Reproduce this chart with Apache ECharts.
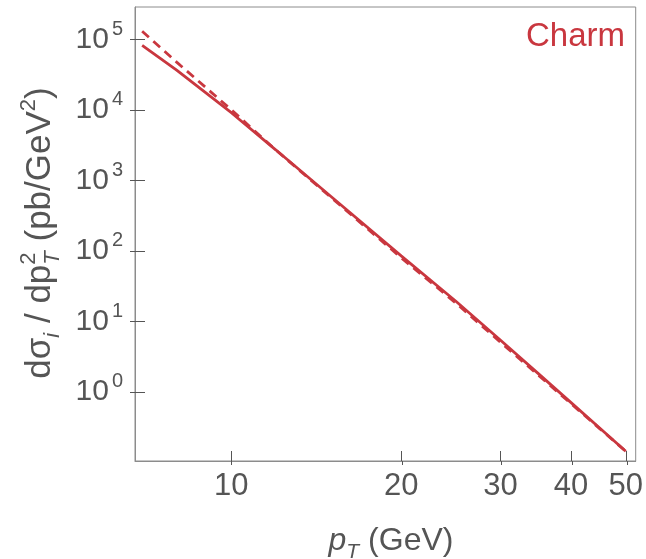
<!DOCTYPE html>
<html><head><meta charset="utf-8">
<script src="https://cdn.jsdelivr.net/npm/echarts@6/dist/echarts.min.js"></script>
<style>html,body{margin:0;padding:0;background:#fff}#c{width:646px;height:559px}</style>
</head><body><div id="c"></div>
<script>
// ---- data ----
const pT = [6.95, 8, 10, 12, 15, 20, 25, 30, 35, 40, 45, 50];
const charmSolid  = [8.2e4, 3.66e4, 9.1e3, 2690, 595, 85, 19.3, 5.4, 1.82, 0.705, 0.305, 0.144];
const charmDashed = [1.3e5, 4.75e4, 1.0e4, 2680, 578, 80, 18.2, 5.06, 1.73, 0.683, 0.30, 0.144];
const xTicks = [10, 20, 30, 40, 50];
const yTicks = [1, 10, 100, 1000, 1e4, 1e5];

const RED = '#c9373f', TXT = '#555', AX = '#8c8c8c', FONT = 'Liberation Sans, Arial, sans-serif';
const xMin = 6.75, xMax = 52.07, yMin = Math.pow(10, -0.979), yMax = Math.pow(10, 5.458);

const cv = document.createElement('canvas').getContext('2d');
function measure(t, size, italic) { cv.font = (italic ? 'italic ' : '') + size + 'px ' + FONT; return cv.measureText(t).width; }
// pieces: {t,size,italic,dy,stack}
function layout(pieces) {
  let x = 0, children = [], lastX = 0, lastW = 0;
  pieces.forEach(p => {
    const w = measure(p.t, p.size, p.italic);
    let px = x;
    if (p.stack) { px = lastX; x = lastX + Math.max(lastW, w); }
    else { lastX = x; lastW = w; x += w; }
    children.push({ type: 'text', x: px, y: p.dy || 0, style: { text: p.t, fill: TXT, font: (p.italic ? 'italic ' : '') + p.size + 'px ' + FONT, verticalAlign: 'middle', align: 'left' } });
  });
  children.forEach(c => c.x -= x / 2);
  return children;
}
const yTitle = layout([
  { t: 'd\u03c3', size: 35 }, { t: 'i', size: 22, italic: true, dy: 13 },
  { t: ' / dp', size: 35 }, { t: '2', size: 22, dy: -11 }, { t: 'T', size: 22, italic: true, dy: 13, stack: true },
  { t: ' (pb/GeV', size: 35 }, { t: '2', size: 22, dy: -11 }, { t: ')', size: 35 }
]);
const xTitle = layout([
  { t: 'p', size: 32, italic: true }, { t: 'T', size: 21, italic: true, dy: 11 }, { t: ' (GeV)', size: 32 }
]);

const chart = echarts.init(document.getElementById('c'));
const gridRect = { left: 135, right: 9, top: 7, bottom: 98 };
function logX(idx, opts) { return Object.assign({ type: 'log', logBase: 10, min: xMin, max: xMax, gridIndex: idx, splitLine: { show: false } }, opts); }
function logY(idx, opts) { return Object.assign({ type: 'log', logBase: 10, min: yMin, max: yMax, gridIndex: idx, splitLine: { show: false } }, opts); }
chart.setOption({
  animation: false,
  grid: [Object.assign({ show: true, borderColor: AX, borderWidth: 1 }, gridRect), Object.assign({}, gridRect)],
  xAxis: [
    logX(0, { axisLine: { lineStyle: { color: AX } },
      axisTick: { inside: true, length: 10, lineStyle: { color: '#555' }, customValues: xTicks },
      axisLabel: { customValues: xTicks, color: TXT, fontSize: 31, fontFamily: FONT, margin: 10, formatter: v => String(Math.round(v)) } }),
    logX(1, { axisLine: { show: false }, axisTick: { inside: false, length: 4, lineStyle: { color: '#555' }, customValues: xTicks }, axisLabel: { show: false } })
  ],
  yAxis: [
    logY(0, { axisLine: { lineStyle: { color: AX } },
      axisTick: { inside: true, length: 10, lineStyle: { color: '#555' }, customValues: yTicks },
      axisLabel: { customValues: yTicks, color: TXT, fontFamily: FONT, margin: 12,
        formatter: v => '{b|10}{s|' + Math.round(Math.log10(v)) + '}',
        rich: { b: { fontSize: 30, fontFamily: FONT, color: TXT }, s: { fontSize: 20, fontFamily: FONT, color: TXT, padding: [0, 0, 20, 3] } } } }),
    logY(1, { axisLine: { show: false }, axisTick: { inside: false, length: 5, lineStyle: { color: '#555' }, customValues: yTicks }, axisLabel: { show: false } })
  ],
  series: [
    { type: 'line', name: 'Charm', data: pT.map((x, i) => [x, charmSolid[i]]), smooth: false, showSymbol: false, lineStyle: { color: RED, width: 2.8 }, xAxisIndex: 0, yAxisIndex: 0 },
    { type: 'line', name: 'Charm (dashed)', data: pT.map((x, i) => [x, charmDashed[i]]), smooth: false, showSymbol: false, lineStyle: { color: RED, width: 2.8, type: [9, 6] }, xAxisIndex: 0, yAxisIndex: 0 }
  ],
  graphic: [
    { type: 'text', right: 21, top: 20, style: { text: 'Charm', fill: RED, font: '33px ' + FONT } },
    { type: 'group', x: 40, y: 233, rotation: Math.PI / 2, children: yTitle },
    { type: 'group', x: 391, y: 541, children: xTitle }
  ]
});
</script></body></html>
